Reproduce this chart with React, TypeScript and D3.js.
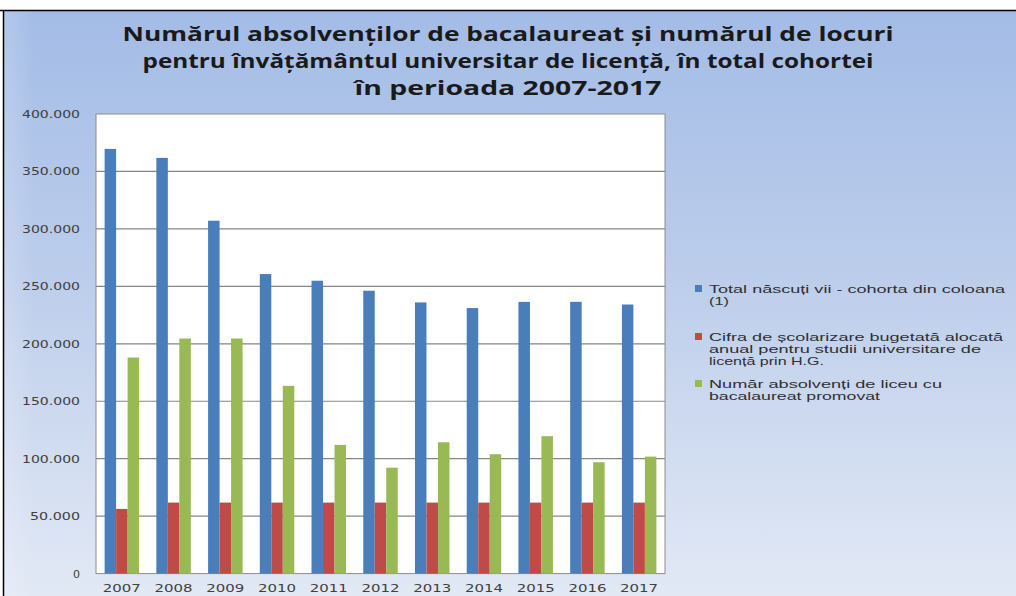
import React from "react";
import * as d3 from "d3";

const years = ["2007", "2008", "2009", "2010", "2011", "2012", "2013", "2014", "2015", "2016", "2017"];
const bornAlive = [369600, 361800, 307100, 260700, 254900, 246200, 236000, 231100, 236500, 236500, 234200];
const budgetPlaces = [56300, 61800, 61800, 61800, 61800, 61800, 61800, 61800, 61800, 61800, 61800];
const graduates = [188000, 204600, 204600, 163400, 112000, 92200, 114300, 103900, 119600, 96900, 101800];
const yTicks = [0, 50000, 100000, 150000, 200000, 250000, 300000, 350000, 400000];
const titleLines = [
  "Numărul absolvenților de bacalaureat și numărul de locuri",
  "pentru învățământul universitar de licență, în total cohortei",
  "în perioada 2007-2017",
];
const seriesNames = [
  ["Total născuți vii - cohorta din coloana", "(1)"],
  ["Cifra de școlarizare bugetată alocată", "anual pentru studii universitare de", "licență prin H.G."],
  ["Număr absolvenți de liceu cu", "bacalaureat promovat"],
];
const colors = ["#4a7ebb", "#be4b48", "#98b954"];

const W = 1016;
const H = 596;
const plot = { left: 96, right: 665, top: 114, bottom: 573.6 };
const titleWidths = [771, 731, 307];
const legendWidths = [[296, 20], [294, 272, 115], [233, 171]];

export default function App() {
  const series = [bornAlive, budgetPlaces, graduates];
  const x = d3.scaleBand<string>().domain(years).range([plot.left, plot.right]).paddingInner(0).paddingOuter(0);
  const y = d3.scaleLinear().domain([0, 400000]).range([plot.bottom, plot.top]);
  const bw = x.bandwidth() / 4.5;
  const fmt = (v: number) => (v === 0 ? "0" : d3.format(",")(v).replace(/,/g, "."));
  const legendY = [293, 341, 388];

  return (
    <div style={{ position: "fixed", left: 0, top: 0 }}>
      <svg width={W} height={H} style={{ display: "block" }}>
        <defs>
          <linearGradient id="bg" x1="0" y1="0" x2="0" y2="1">
            <stop offset="0" stopColor="#a3bce6" />
            <stop offset="0.45" stopColor="#bccdeb" />
            <stop offset="1" stopColor="#e2e9f5" />
          </linearGradient>
          <linearGradient id="bgl" x1="0" y1="0" x2="1" y2="0">
            <stop offset="0" stopColor="#ffffff" stopOpacity="0.18" />
            <stop offset="0.03" stopColor="#ffffff" stopOpacity="0" />
          </linearGradient>
        </defs>
        <rect x={0} y={0} width={W} height={H} fill="#ffffff" />
        <rect x={4} y={10} width={W - 4} height={H - 10} fill="url(#bg)" />
        <rect x={4} y={10} width={W - 4} height={H - 10} fill="url(#bgl)" />
        <line x1={0} x2={W} y1={10.5} y2={10.5} stroke="#000" strokeWidth={1.5} />
        <line x1={3.5} x2={3.5} y1={10} y2={H} stroke="#000" strokeWidth={1.5} />

        {titleLines.map((t, i) => (
          <text
            key={i}
            x={508}
            y={41 + i * 26.8}
            textAnchor="middle"
            fontFamily="'Open Sans', sans-serif"
            fontWeight={700}
            fontSize={19.5}
            fill="#1a1a1a"
            textLength={titleWidths[i]}
            lengthAdjust="spacingAndGlyphs"
          >
            {t}
          </text>
        ))}

        <rect x={plot.left} y={plot.top} width={plot.right - plot.left} height={plot.bottom - plot.top} fill="#ffffff" stroke="#8c8c8c" strokeWidth={1} />
        {yTicks.slice(1, -1).map((t) => (
          <line key={t} x1={plot.left} x2={plot.right} y1={y(t)} y2={y(t)} stroke="#868686" strokeWidth={1.2} />
        ))}
        {yTicks.map((t) => (
          <text
            key={t}
            x={80}
            y={y(t) + 4}
            textAnchor="end"
            fontFamily="'DejaVu Sans', sans-serif"
            fontSize={11}
            fill="#404040"
            textLength={t === 0 ? undefined : t >= 100000 ? 58 : 50}
            lengthAdjust="spacingAndGlyphs"
          >
            {fmt(t)}
          </text>
        ))}

        {series.map((vals, si) =>
          vals.map((v, i) => (
            <rect
              key={`${si}-${i}`}
              x={(x(years[i]) as number) + bw * 0.75 + si * bw}
              y={y(v)}
              width={bw}
              height={y(0) - y(v)}
              fill={colors[si]}
            />
          ))
        )}

        {years.map((yr) => (
          <text
            key={yr}
            x={(x(yr) as number) + x.bandwidth() / 2}
            y={592}
            textAnchor="middle"
            fontFamily="'DejaVu Sans', sans-serif"
            fontSize={11}
            fill="#404040"
            textLength={38}
            lengthAdjust="spacingAndGlyphs"
          >
            {yr}
          </text>
        ))}

        {seriesNames.map((lines, si) => (
          <g key={si}>
            <rect x={695} y={legendY[si] - 8} width={7} height={7} fill={colors[si]} />
            {lines.map((l, li) => (
              <text
                key={li}
                x={709}
                y={legendY[si] + li * 12}
                fontFamily="'Liberation Sans', Arial, sans-serif"
                fontSize={11.5}
                fill="#303030"
                textLength={legendWidths[si][li]}
                lengthAdjust="spacingAndGlyphs"
              >
                {l}
              </text>
            ))}
          </g>
        ))}
      </svg>
    </div>
  );
}
